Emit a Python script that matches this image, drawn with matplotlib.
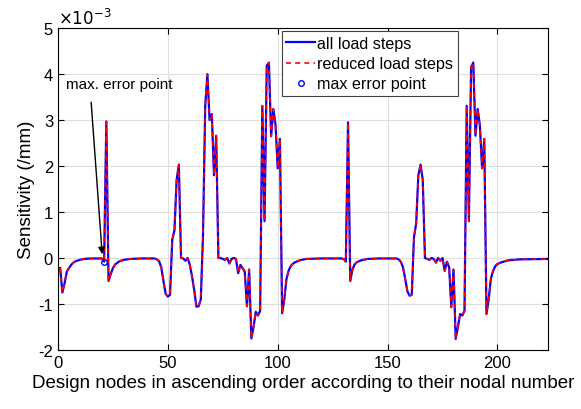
import matplotlib
matplotlib.use("Agg")
import matplotlib.pyplot as plt

plt.rcParams['font.family'] = ['Liberation Sans', 'DejaVu Sans']
plt.rcParams['axes.unicode_minus'] = False

# design node number and sensitivity (x 1e-3 /mm)
nodes = [1, 2, 3, 4, 5, 6, 7, 8, 10, 12, 15, 20, 21, 22, 23, 24, 25, 26, 28, 30,
         33, 38, 44, 45, 46, 47, 48, 49, 50, 51, 52, 53, 54, 55, 56, 57, 58, 59, 60, 61,
         62, 63, 64, 65, 66, 67, 68, 69, 70, 71, 72, 73, 74, 75, 76, 77, 78, 79, 80, 81,
         82, 83, 84, 85, 86, 87, 88, 89, 90, 91, 92, 93, 94, 95, 96, 97, 98, 99, 100, 101,
         102, 103, 104, 105, 106, 107, 108, 110, 113, 120, 129, 130, 131, 132, 133, 134, 135, 136, 138, 141,
         146, 154, 155, 156, 157, 158, 159, 160, 161, 162, 163, 164, 165, 166, 167, 168, 169, 170, 171, 172,
         173, 174, 175, 176, 177, 178, 179, 180, 181, 182, 183, 184, 185, 186, 187, 188, 189, 190, 191, 192,
         193, 194, 195, 196, 197, 198, 199, 200, 202, 205, 210, 223]
sens_all = [-0.22, -0.75, -0.55, -0.30, -0.22, -0.15, -0.10, -0.07, -0.04, -0.02, -0.01, -0.01, -0.08, 2.97, -0.50, -0.35, -0.22, -0.14, -0.07, -0.04,
            -0.02, -0.01, -0.01, -0.03, -0.07, -0.20, -0.50, -0.78, -0.84, -0.80, 0.40, 0.60, 1.70, 2.03, 0.00, -0.01, -0.06, 0.00, -0.15, -0.40,
            -0.70, -1.06, -1.05, -0.90, 0.50, 3.30, 4.00, 3.00, 3.13, 1.80, 2.66, 0.00, 0.00, -0.02, -0.04, 0.00, -0.12, -0.02, 0.00, -0.02,
            -0.33, -0.15, -0.22, -0.30, -1.05, -0.25, -1.75, -1.50, -1.17, -1.25, -1.15, 3.31, 0.80, 4.18, 4.25, 2.65, 3.24, 2.90, 1.95, 2.59,
            -1.20, -0.90, -0.45, -0.27, -0.17, -0.12, -0.09, -0.05, -0.02, -0.01, -0.01, -0.02, -0.08, 2.95, -0.50, -0.25, -0.14, -0.09, -0.05, -0.02,
            -0.01, -0.01, -0.03, -0.08, -0.20, -0.45, -0.72, -0.82, -0.80, 0.45, 0.75, 1.80, 2.03, 1.70, 0.00, -0.02, -0.04, 0.00, -0.02, -0.10,
            0.00, -0.06, 0.00, -0.28, -0.08, -0.20, -1.07, -0.25, -1.76, -1.50, -1.22, -1.25, -1.15, 3.31, 0.80, 4.15, 4.25, 2.66, 3.24, 2.88,
            1.95, 2.59, -1.22, -0.90, -0.45, -0.28, -0.18, -0.13, -0.09, -0.05, -0.03, -0.02]
sens_reduced = list(sens_all)
err_node = [21]
err_val = [-0.08]

fig = plt.figure(figsize=(5.81, 4.10), dpi=100)
ax = fig.add_axes([0.0998, 0.144, 0.8434, 0.785])

ax.plot(nodes, sens_all, color='#0000ff', lw=1.6, label='all load steps')
ax.plot(nodes, sens_reduced, color='#ff0000', lw=1.2, ls=(0, (3, 2.5)), label='reduced load steps')
ax.plot(err_node, err_val, 'o', ms=4, mfc='none', mec='#0000ff', mew=1.0, ls='none', label='max error point')

ax.annotate('', xy=(20.2, 0.02), xytext=(15, 3.45),
            arrowprops=dict(arrowstyle='-|>', color='k', lw=1.0, mutation_scale=10))
ax.text(3.5, 3.78, 'max. error point', fontsize=11, va='center')

ax.set_xlim(0, 223)
ax.set_ylim(-2, 5)
ax.set_xticks([0, 50, 100, 150, 200])
ax.set_yticks([-2, -1, 0, 1, 2, 3, 4, 5])
ax.grid(True, color='#dfdfdf', lw=0.8)
ax.set_axisbelow(True)
ax.tick_params(direction='in', top=True, right=True, labelsize=12, length=4)
for s in ax.spines.values():
    s.set_linewidth(0.8)
ax.text(0, 1.005, r'$\times10^{-3}$', transform=ax.transAxes, fontsize=12, va='bottom')

ax.set_xlabel('Design nodes in ascending order according to their nodal number', fontsize=13.5, labelpad=3)
ax.set_ylabel('Sensitivity (/mm)', fontsize=13.5, labelpad=2)

leg = ax.legend(loc='upper right', bbox_to_anchor=(0.816, 0.991), fontsize=11.6, handlelength=1.8,
                handletextpad=0.1, borderpad=0.3, labelspacing=0.33, fancybox=False, framealpha=1,
                edgecolor='#404040', borderaxespad=0)
leg.get_frame().set_linewidth(0.8)

fig.savefig('out.png', dpi=100)
